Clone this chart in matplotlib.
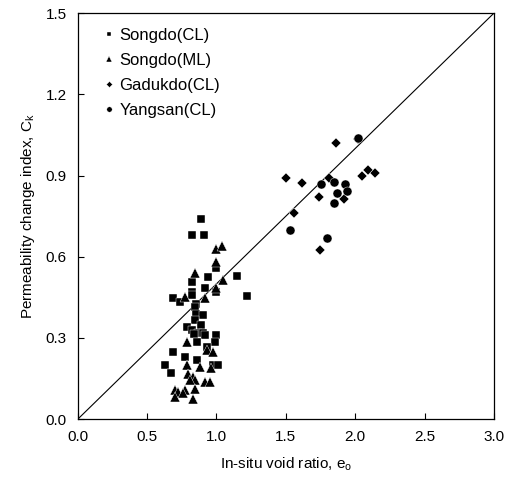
import matplotlib
matplotlib.use("Agg")
import matplotlib.pyplot as plt

plt.rcParams['font.family'] = ['Liberation Sans', 'DejaVu Sans']
plt.rcParams['mathtext.fontset'] = 'custom'
plt.rcParams['mathtext.rm'] = 'Liberation Sans'

# Songdo (CL) - squares
songdo_cl_e = [0.885, 0.82, 0.91, 1.0, 0.94, 1.15, 0.82, 0.82, 0.915, 1.0, 0.69, 0.735,
               0.82, 0.855, 0.845, 0.855, 0.903, 0.845, 0.89, 0.784, 0.82, 0.867, 0.903,
               1.0, 0.84, 0.915, 0.856, 0.99, 0.93, 0.687, 0.77, 0.856, 0.976, 1.01,
               0.627, 0.675, 1.22]
songdo_cl_c = [0.741, 0.682, 0.682, 0.56, 0.525, 0.53, 0.507, 0.47, 0.483, 0.47, 0.446, 0.433,
               0.458, 0.427, 0.415, 0.39, 0.384, 0.366, 0.347, 0.341, 0.329, 0.317, 0.317,
               0.31, 0.316, 0.31, 0.286, 0.286, 0.267, 0.249, 0.23, 0.218, 0.2, 0.2,
               0.2, 0.169, 0.454]

# Songdo (ML) - triangles
songdo_ml_e = [1.0, 1.04, 1.0, 0.845, 1.05, 1.0, 0.77, 0.915, 0.784, 0.93, 0.975, 0.784,
               0.88, 0.96, 0.795, 0.83, 0.845, 0.81, 0.915, 0.95, 0.845, 0.70, 0.72,
               0.77, 0.70, 0.76, 0.83]
songdo_ml_c = [0.63, 0.64, 0.58, 0.54, 0.513, 0.483, 0.45, 0.446, 0.286, 0.255, 0.249, 0.2,
               0.193, 0.19, 0.168, 0.156, 0.144, 0.144, 0.138, 0.138, 0.113, 0.107, 0.10,
               0.107, 0.082, 0.095, 0.076]

# Gadukdo (CL) - diamonds
gadukdo_e = [1.86, 2.02, 1.62, 1.81, 2.05, 2.09, 2.14, 1.74, 1.92, 1.56, 1.745, 1.50]
gadukdo_c = [1.02, 1.035, 0.873, 0.89, 0.898, 0.92, 0.91, 0.82, 0.815, 0.762, 0.624, 0.89]

# Yangsan (CL) - circles
yangsan_e = [2.02, 1.757, 1.85, 1.93, 1.87, 1.94, 1.85, 1.80, 1.53]
yangsan_c = [1.04, 0.87, 0.877, 0.87, 0.837, 0.843, 0.80, 0.67, 0.70]

# reference line C_k = 0.5 e_o
line_e = [0.0, 3.0]
line_c = [0.0, 1.5]

fig = plt.figure(figsize=(5.05, 4.88), dpi=100)
ax = fig.add_axes([0.154, 0.141, 0.824, 0.832])

ax.plot(line_e, line_c, color='black', linewidth=0.8)

kw = dict(linestyle='none', color='black', markeredgecolor='white', markeredgewidth=0.3)
ax.plot(songdo_cl_e, songdo_cl_c, marker='s', markersize=6, label='Songdo(CL)', **kw)
ax.plot(songdo_ml_e, songdo_ml_c, marker='^', markersize=7, label='Songdo(ML)', **kw)
ax.plot(gadukdo_e, gadukdo_c, marker='D', markersize=5.2, label='Gadukdo(CL)', **kw)
ax.plot(yangsan_e, yangsan_c, marker='o', markersize=6.5, label='Yangsan(CL)', **kw)

ax.set_xlim(0, 3.0)
ax.set_ylim(0, 1.5)
ax.set_xticks([0.0, 0.5, 1.0, 1.5, 2.0, 2.5, 3.0])
ax.set_yticks([0.0, 0.3, 0.6, 0.9, 1.2, 1.5])
ax.xaxis.set_major_formatter(matplotlib.ticker.FormatStrFormatter('%.1f'))
ax.yaxis.set_major_formatter(matplotlib.ticker.FormatStrFormatter('%.1f'))
ax.tick_params(direction='in', length=4, width=0.8, labelsize=11, pad=8)
for s in ax.spines.values():
    s.set_linewidth(0.9)

ax.set_xlabel('In-situ void ratio, e$_\\mathrm{o}$', fontsize=11, labelpad=8)
ax.set_ylabel('Permeability change index, C$_\\mathrm{k}$', fontsize=11, labelpad=6)

leg = ax.legend(loc='upper left', bbox_to_anchor=(0.02, 1.0), frameon=False,
                fontsize=12, handletextpad=0.1, labelspacing=0.6, markerscale=0.6,
                handlelength=1.0)

plt.savefig('out.png', dpi=100)
